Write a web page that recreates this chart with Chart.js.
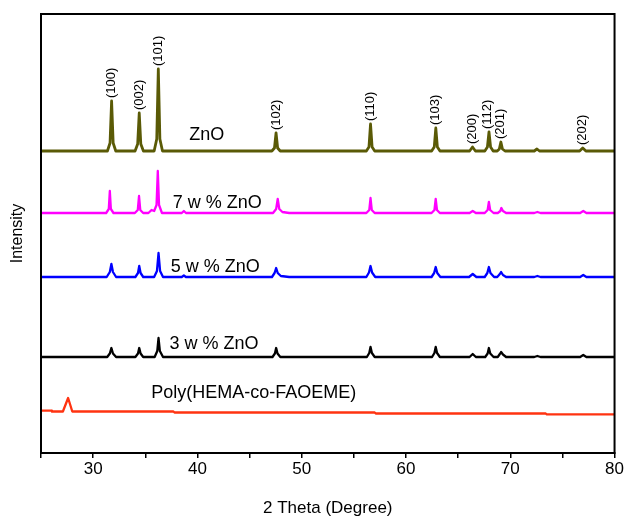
<!DOCTYPE html>
<html>
<head>
<meta charset="utf-8">
<script src="https://cdn.jsdelivr.net/npm/chart.js@4.4.1/dist/chart.umd.min.js"></script>
<style>
  body { margin: 0; background: #fff; }
  #wrap { width: 625px; height: 519px; }
</style>
</head>
<body>
<div id="wrap"><canvas id="xrd" width="625" height="519"></canvas></div>
<script>
// 2θ / intensity pairs (arbitrary units, curves stacked)
const znoPattern = [
  [25, 302], [31.37, 302], [31.62, 310], [31.77, 352], [31.92, 310], [32.17, 302],
  [34.02, 302], [34.27, 309], [34.42, 340], [34.57, 309], [34.82, 302],
  [35.85, 302], [36.10, 314], [36.25, 384], [36.40, 314], [36.65, 302],
  [47.14, 302], [47.39, 305], [47.54, 320], [47.69, 305], [47.94, 302],
  [56.20, 302], [56.45, 306], [56.60, 329], [56.75, 306], [57.00, 302],
  [62.46, 302], [62.71, 306], [62.86, 325], [63.01, 306], [63.26, 302],
  [66.10, 302], [66.38, 306], [66.66, 302],
  [67.56, 302], [67.81, 306], [67.96, 321], [68.11, 306], [68.36, 302],
  [68.75, 302], [68.95, 304], [69.10, 311], [69.25, 304], [69.50, 302],
  [72.30, 302], [72.56, 304], [72.80, 302],
  [76.65, 302], [76.95, 305], [77.25, 302], [80, 302]
];

const zno7Pattern = [
  [25, 240], [31.25, 240], [31.50, 244], [31.60, 262], [31.70, 244], [31.95, 240],
  [34.00, 240], [34.28, 243], [34.40, 257], [34.52, 243], [34.80, 240],
  [35.30, 240], [35.60, 243], [35.85, 242], [36.08, 248], [36.20, 282], [36.32, 248], [36.60, 240],
  [38.50, 240], [38.70, 242], [38.90, 240],
  [47.25, 240], [47.55, 244], [47.70, 254], [47.85, 244], [48.15, 241], [48.80, 240],
  [56.20, 240], [56.48, 243], [56.60, 255], [56.72, 243], [57.00, 240],
  [62.45, 240], [62.73, 243], [62.85, 254], [62.97, 243], [63.25, 240],
  [66.10, 240], [66.40, 242], [66.70, 240],
  [67.55, 240], [67.83, 243], [67.95, 251], [68.07, 243], [68.40, 240],
  [68.80, 240], [69.05, 242], [69.15, 245], [69.30, 242], [69.60, 240],
  [72.30, 240], [72.60, 241], [72.90, 240],
  [76.70, 240], [77.00, 242], [77.30, 240], [80, 240]
];

const zno5Pattern = [
  [25, 176], [31.30, 176], [31.60, 181], [31.75, 189], [31.90, 181], [32.20, 176],
  [34.05, 176], [34.30, 180], [34.42, 187], [34.55, 180], [34.80, 176],
  [35.85, 176], [36.12, 182], [36.27, 200], [36.42, 182], [36.70, 176],
  [38.50, 176], [38.70, 177.5], [38.90, 176],
  [47.15, 176], [47.40, 180], [47.55, 185], [47.70, 180], [48.00, 177], [48.80, 176],
  [56.20, 176], [56.45, 180.5], [56.60, 187], [56.75, 180.5], [57.05, 176],
  [62.45, 176], [62.70, 180], [62.85, 186], [63.00, 180], [63.30, 176],
  [66.05, 176], [66.40, 179], [66.75, 176],
  [67.55, 176], [67.80, 180], [67.95, 186], [68.10, 180], [68.45, 176],
  [68.75, 176], [69.00, 179], [69.12, 181], [69.30, 178], [69.60, 176],
  [72.30, 176], [72.60, 177], [72.90, 176],
  [76.70, 176], [77.00, 178], [77.30, 176], [80, 176]
];

const zno3Pattern = [
  [25, 96], [31.35, 96], [31.60, 99.5], [31.75, 105], [31.90, 99.5], [32.20, 96],
  [34.05, 96], [34.30, 99.5], [34.42, 105], [34.55, 99.5], [34.80, 96],
  [35.90, 96], [36.15, 102], [36.27, 115], [36.40, 102], [36.70, 96],
  [47.20, 96], [47.43, 99.5], [47.55, 105], [47.68, 99.5], [47.95, 96],
  [56.25, 96], [56.48, 100], [56.60, 106], [56.73, 100], [57.00, 96],
  [62.50, 96], [62.73, 100], [62.85, 106], [62.98, 100], [63.25, 96],
  [66.10, 96], [66.40, 99], [66.70, 96],
  [67.60, 96], [67.83, 99.5], [67.95, 105], [68.08, 99.5], [68.40, 96],
  [68.80, 96], [69.00, 99], [69.12, 101], [69.30, 98.5], [69.60, 96],
  [72.30, 96], [72.60, 97], [72.90, 96],
  [76.70, 96], [77.00, 98], [77.30, 96], [80, 96]
];

const polyPattern = [
  [25, 42.3], [26.00, 42.3], [26.05, 41.5], [27.10, 41.5], [27.60, 55], [28.00, 41.5],
  [37.70, 41.5], [37.80, 40.5], [57.00, 40.5], [57.10, 39.5], [73.40, 39.5], [73.50, 38.6], [80, 38.6]
];

// Miller indices over the ZnO peaks: [2θ, apex intensity]
const hklNames = ['(100)', '(002)', '(101)', '(102)', '(110)', '(103)', '(200)', '(112)', '(201)', '(202)'];
const hklPeaks = [[31.77, 352], [34.42, 340], [36.25, 384], [47.54, 320], [56.6, 329],
                  [62.86, 325], [66.38, 306], [67.8, 321], [69.1, 311], [76.95, 305]];

const seriesNames = ['ZnO', '7 w % ZnO', '5 w % ZnO', '3 w % ZnO', 'Poly(HEMA-co-FAOEME)'];
const seriesColors = ['#5a5a06', '#ff00ff', '#0000ff', '#000000', '#ff3311'];
const seriesText = [[40.9, 318], [41.9, 250], [41.7, 186], [41.6, 109], [45.4, 60]];

const patterns = [znoPattern, zno7Pattern, zno5Pattern, zno3Pattern, polyPattern];

const toPoints = arr => arr.map(p => ({ x: p[0], y: p[1] }));

const FONT = '"Liberation Sans", Arial, sans-serif';

// frame around the plot + text labels
const framePlugin = {
  id: 'frame',
  afterDatasetsDraw(chart) {
    const { ctx, chartArea, scales } = chart;
    ctx.save();
    ctx.strokeStyle = '#000';
    ctx.lineWidth = 2;
    ctx.strokeRect(chartArea.left, chartArea.top, chartArea.right - chartArea.left, chartArea.bottom - chartArea.top);

    ctx.fillStyle = '#000';
    ctx.font = '18px ' + FONT;
    ctx.textAlign = 'center';
    ctx.textBaseline = 'middle';
    seriesNames.forEach((name, i) => {
      ctx.fillText(name, scales.x.getPixelForValue(seriesText[i][0]), scales.y.getPixelForValue(seriesText[i][1]));
    });

    ctx.font = '13px ' + FONT;
    ctx.textAlign = 'left';
    hklNames.forEach((name, i) => {
      const px = scales.x.getPixelForValue(hklPeaks[i][0]);
      const py = scales.y.getPixelForValue(hklPeaks[i][1]) - 3;
      ctx.save();
      ctx.translate(px, py);
      ctx.rotate(-Math.PI / 2);
      ctx.fillText(name, 0, 0);
      ctx.restore();
    });
    ctx.restore();
  }
};

new Chart(document.getElementById('xrd'), {
  type: 'line',
  data: {
    datasets: patterns.map((pat, i) => ({
      label: seriesNames[i],
      data: toPoints(pat),
      borderColor: seriesColors[i],
      borderWidth: i === 0 ? 2.8 : 2.3,
      borderJoinStyle: 'round',
      borderCapStyle: 'round',
      pointRadius: 0,
      tension: 0,
      fill: false
    }))
  },
  options: {
    responsive: false,
    animation: false,
    layout: { padding: { top: 14, right: 10, left: 0, bottom: 0 } },
    plugins: {
      legend: { display: false },
      tooltip: { enabled: false }
    },
    scales: {
      x: {
        type: 'linear',
        min: 25,
        max: 80,
        afterFit: scale => { scale.height = 66; },
        border: { display: true, color: '#000', width: 2 },
        grid: { display: true, drawOnChartArea: false, drawTicks: true, tickLength: 5, color: '#000', lineWidth: 1.5 },
        ticks: {
          stepSize: 5,
          autoSkip: false,
          maxRotation: 0,
          padding: 1,
          color: '#000',
          font: { family: FONT, size: 17 },
          callback: v => (v % 10 === 0 ? v : '')
        },
        title: {
          display: true,
          text: '2 Theta (Degree)',
          color: '#000',
          font: { family: FONT, size: 17 },
          padding: { top: 0, bottom: 0 }
        }
      },
      y: {
        min: 0,
        max: 439,
        afterFit: scale => { scale.width = 41; },
        border: { display: true, color: '#000', width: 2 },
        grid: { display: false },
        ticks: { display: false },
        title: {
          display: true,
          text: 'Intensity',
          color: '#000',
          font: { family: FONT, size: 16 },
          padding: { top: 8, bottom: 0 }
        }
      }
    }
  },
  plugins: [framePlugin]
});
</script>
</body>
</html>
